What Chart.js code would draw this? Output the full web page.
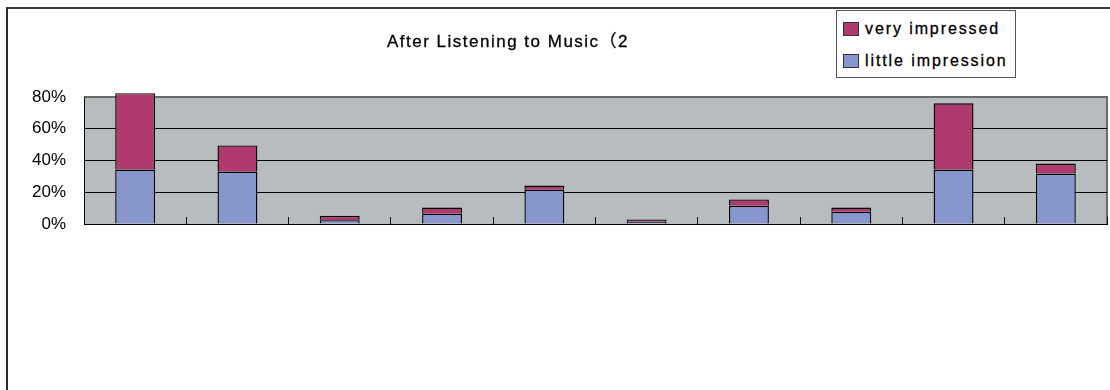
<!DOCTYPE html>
<html>
<head>
<meta charset="utf-8">
<script src="https://cdn.jsdelivr.net/npm/chart.js@4.4.0/dist/chart.umd.min.js"></script>
<style>
    body { margin: 0; background: #fff; }
    #wrap { position: relative; width: 1110px; height: 390px; overflow: hidden; }
    #frame { position: absolute; left: 6px; top: 7px; width: 1200px; height: 500px;
             border-left: 2px solid #2a2a2a; border-top: 2px solid #3a3a3a; }
    #title { position: absolute; left: 0; top: 27px; width: 1016px; text-align: center;
             font: 17px "Liberation Sans", "Noto Sans CJK JP", sans-serif; letter-spacing: 1.5px; color: #000;
             -webkit-text-stroke: 0.3px #000; }
    #legend { position: absolute; left: 836px; top: 10px; width: 178px; height: 64px;
              border: 1px solid #555; background: #fff; padding-top: 2px; }
    .item { height: 32px; display: flex; align-items: center; padding-left: 6px;
            font: 16px "Liberation Sans", sans-serif; letter-spacing: 1.9px; color: #000;
            -webkit-text-stroke: 0.3px #000; }
    .box { width: 14px; height: 12px; border: 1px solid #333; margin-right: 6px; }
</style>
</head>
<body>
<div id="wrap">
    <canvas id="chart-music" width="1110" height="390"></canvas>
    <div id="frame"></div>
    <div id="title">After Listening to Music（2</div>
    <div id="legend"></div>
</div>
<script>
// ------------------------------ DATA ------------------------------
const categories = ['1', '2', '3', '4', '5', '6', '7', '8', '9', '10'];
const little_impression = [34.3, 33.0, 2.4, 6.5, 21.6, 1.4, 11.5, 7.7, 34.3, 31.8];
const very_impressed = [48.1, 16.5, 2.8, 3.9, 2.6, 1.4, 4.0, 2.7, 41.7, 6.3];
const y_ticks = [0, 20, 40, 60, 80];

// ------------------------- plot area background -------------------------
const plotBackground = {
    id: 'plotBackground',
    beforeDraw(chart) {
        const a = chart.chartArea;
        const ctx = chart.ctx;
        ctx.save();
        ctx.fillStyle = '#b7bcbf';
        ctx.fillRect(a.left, a.top, a.right - a.left, a.bottom - a.top);
        ctx.strokeStyle = '#6a6a6a';
        ctx.lineWidth = 2;
        ctx.beginPath();
        ctx.moveTo(a.left, a.top);
        ctx.lineTo(a.right, a.top);
        ctx.lineTo(a.right, a.bottom);
        ctx.stroke();
        ctx.restore();
    }
};

var music = document.getElementById('chart-music').getContext('2d');
var chart_music = new Chart(music, {
    type: 'bar',
    data: {
        labels: categories,
        datasets: [{
            label: 'little impression',
            data: little_impression,
            backgroundColor: '#8796cc',
            borderColor: '#000',
            borderWidth: 1.4,
            clip: false
        }, {
            label: 'very impressed',
            data: very_impressed,
            backgroundColor: '#b03a6e',
            borderColor: '#000',
            borderWidth: 1.4,
            clip: false
        }]
    },
    options: {
        responsive: false,
        animation: false,
        categoryPercentage: 1,
        barPercentage: 0.39,
        layout: {
            padding: { left: 0, right: 3, top: 97, bottom: 166 }
        },
        plugins: {
            legend: { display: false },
            title: { display: false },
            tooltip: { enabled: false }
        },
        scales: {
            x: {
                stacked: true,
                ticks: { display: false },
                grid: {
                    drawOnChartArea: false,
                    drawTicks: true,
                    tickLength: -7,
                    color: '#111'
                },
                border: { color: '#000', width: 1 },
                afterFit(scale) { scale.height = 0; }
            },
            y: {
                stacked: true,
                min: 0,
                max: 80,
                afterBuildTicks(scale) {
                    scale.ticks = y_ticks.map(v => ({ value: v }));
                },
                ticks: {
                    padding: 18,
                    color: '#000',
                    font: { family: 'Liberation Sans', size: 17 },
                    callback: v => v + '%'
                },
                grid: {
                    drawTicks: false,
                    color: ctx => (ctx.tick && ctx.tick.value === 80) ? '#6a6a6a' : '#000',
                    lineWidth: ctx => (ctx.tick && ctx.tick.value === 80) ? 2 : 1
                },
                border: { color: '#000', width: 1 },
                afterFit(scale) { scale.width = 84; }
            }
        }
    },
    plugins: [plotBackground]
});

// ------------------------------ legend ------------------------------
var legend = document.getElementById('legend');
chart_music.data.datasets.slice().reverse().forEach(function (ds) {
    var row = document.createElement('div');
    row.className = 'item';
    var box = document.createElement('span');
    box.className = 'box';
    box.style.background = ds.backgroundColor;
    row.appendChild(box);
    row.appendChild(document.createTextNode(ds.label));
    legend.appendChild(row);
});
</script>
</body>
</html>
